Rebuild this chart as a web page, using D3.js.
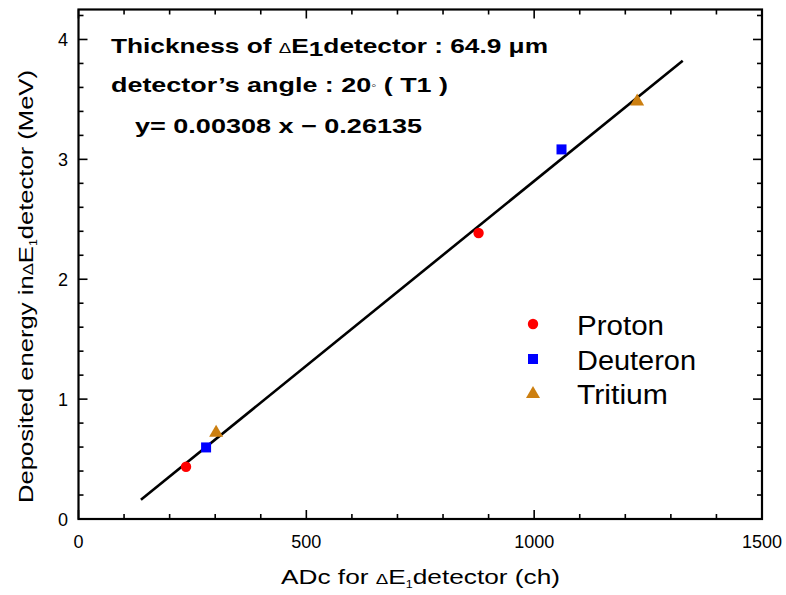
<!DOCTYPE html>
<html>
<head>
<meta charset="utf-8">
<script src="https://cdn.jsdelivr.net/npm/d3@7"></script>
<style>
  body { margin: 0; background: #fff; }
  text { font-family: "Liberation Sans", Arial, sans-serif; }
</style>
</head>
<body>
<svg id="chart" width="786" height="595"></svg>
<script>
// data
let protonX = [236, 878];
let protonY = [0.436, 2.386];
let deuteronX = [280, 1060];
let deuteronY = [0.597, 3.083];
let tritiumX = [302, 1226];
let tritiumY = [0.727, 3.49];

// fitted line y = a x + b, drawn over this x range
let fitSlope = 0.00308;
let fitIntercept = -0.26135;
let fitRange = [137, 1326];

let xTicks = [0, 500, 1000, 1500];
let yTicks = [0, 1, 2, 3, 4];

let series = [
    {name: "Proton", xs: protonX, ys: protonY, shape: "circle", color: "#ff0000"},
    {name: "Deuteron", xs: deuteronX, ys: deuteronY, shape: "square", color: "#0000ff"},
    {name: "Tritium", xs: tritiumX, ys: tritiumY, shape: "triangle", color: "#cc7f10"}
];

let margin = {left: 78.5, right: 762, top: 9.5, bottom: 519};
let svg = d3.select("#chart");

let x = d3.scaleLinear().domain([0, 1500]).range([margin.left, margin.right]);
let y = d3.scaleLinear().domain([0, 4.25]).range([margin.bottom, margin.top]);

/** ticks on all four sides, pointing inward */
let minorX = d3.range(0, 1501, 100);
let minorY = d3.range(0, 4.25, 0.2).map(v => +v.toFixed(1));

function isMajor(v, step) {
    return Math.abs(v / step - Math.round(v / step)) < 1e-6;
}

let tickG = svg.append("g").attr("stroke", "#000").attr("stroke-width", 1.6);
minorX.forEach(v => {
    let len = isMajor(v, 500) ? 9 : 5;
    tickG.append("line").attr("x1", x(v)).attr("x2", x(v))
        .attr("y1", margin.bottom).attr("y2", margin.bottom - len);
    tickG.append("line").attr("x1", x(v)).attr("x2", x(v))
        .attr("y1", margin.top).attr("y2", margin.top + len);
});
minorY.forEach(v => {
    let len = isMajor(v, 1) ? 9 : 5;
    tickG.append("line").attr("y1", y(v)).attr("y2", y(v))
        .attr("x1", margin.left).attr("x2", margin.left + len);
    tickG.append("line").attr("y1", y(v)).attr("y2", y(v))
        .attr("x1", margin.right).attr("x2", margin.right - len);
});

svg.append("rect")
    .attr("x", margin.left)
    .attr("y", margin.top)
    .attr("width", margin.right - margin.left)
    .attr("height", margin.bottom - margin.top)
    .attr("fill", "none")
    .attr("stroke", "#000")
    .attr("stroke-width", 2.2);

// tick labels
svg.selectAll(".xlab").data(xTicks).enter()
    .append("text")
    .attr("x", d => x(d))
    .attr("y", 548)
    .attr("text-anchor", "middle")
    .attr("font-size", 18)
    .text(d => d);

svg.selectAll(".ylab").data(yTicks).enter()
    .append("text")
    .attr("x", 68)
    .attr("y", d => y(d) + 6.5)
    .attr("text-anchor", "end")
    .attr("font-size", 18)
    .text(d => d);

// axis titles
let xTitle = svg.append("text")
    .attr("x", 281)
    .attr("y", 584)
    .attr("font-size", 21)
    .attr("textLength", 279)
    .attr("lengthAdjust", "spacingAndGlyphs");
xTitle.append("tspan").text("ADc for ");
xTitle.append("tspan").attr("font-size", 15).text("\u0394");
xTitle.append("tspan").text("E");
xTitle.append("tspan").attr("font-size", 10).attr("dy", 4).text("1");
xTitle.append("tspan").attr("dy", -4).text("detector (ch)");

let yTitle = svg.append("text")
    .attr("transform", "translate(33,503) rotate(-90)")
    .attr("x", 0)
    .attr("y", 0)
    .attr("font-size", 21)
    .attr("textLength", 433)
    .attr("lengthAdjust", "spacingAndGlyphs");
yTitle.append("tspan").text("Deposited energy in");
yTitle.append("tspan").attr("font-size", 15).text("\u0394");
yTitle.append("tspan").text("E");
yTitle.append("tspan").attr("font-size", 10).attr("dy", 4).text("1");
yTitle.append("tspan").attr("dy", -4).text("detector (MeV)");

// fit line
svg.append("line")
    .attr("x1", x(fitRange[0]))
    .attr("y1", y(fitSlope * fitRange[0] + fitIntercept))
    .attr("x2", x(fitRange[1]))
    .attr("y2", y(fitSlope * fitRange[1] + fitIntercept))
    .attr("stroke", "#000")
    .attr("stroke-width", 2.6);

/** markers */
function drawMarker(g, shape, cx, cy, color) {
    if (shape === "circle") {
        g.append("circle").attr("cx", cx).attr("cy", cy).attr("r", 5.2).attr("fill", color);
    } else if (shape === "square") {
        g.append("rect").attr("x", cx - 5).attr("y", cy - 5)
            .attr("width", 10).attr("height", 10).attr("fill", color);
    } else {
        g.append("path")
            .attr("d", `M${cx},${cy - 7}L${cx + 7},${cy + 5}L${cx - 7},${cy + 5}Z`)
            .attr("fill", color);
    }
}

let pts = svg.append("g");
series.forEach(s => {
    s.xs.forEach((v, i) => drawMarker(pts, s.shape, x(v), y(s.ys[i]), s.color));
});

// legend
let legendY = [324, 359, 393];
let legendW = [87, 119, 91];
series.forEach((s, i) => {
    drawMarker(svg, s.shape, 533, legendY[i], s.color);
    svg.append("text")
        .attr("x", 577)
        .attr("y", legendY[i] + 11)
        .attr("font-size", 27)
        .attr("textLength", legendW[i])
        .attr("lengthAdjust", "spacingAndGlyphs")
        .text(s.name);
});

// annotation
let note1 = svg.append("text")
    .attr("x", 111).attr("y", 53)
    .attr("font-size", 21).attr("font-weight", "bold")
    .attr("textLength", 437).attr("lengthAdjust", "spacingAndGlyphs");
note1.append("tspan").text("Thickness of ");
note1.append("tspan").attr("font-size", 15).attr("font-weight", "normal").text("\u0394");
note1.append("tspan").text("E");
note1.append("tspan").attr("dy", 3).text("1");
note1.append("tspan").attr("dy", -3).text("detector : 64.9 \u03bcm");

let note2 = svg.append("text")
    .attr("x", 111).attr("y", 92)
    .attr("font-size", 21).attr("font-weight", "bold")
    .attr("textLength", 337).attr("lengthAdjust", "spacingAndGlyphs");
note2.append("tspan").text("detector\u2019s angle : 20");
note2.append("tspan").attr("font-size", 11).attr("font-weight", "normal").attr("dy", -3).text("\u25e6");
note2.append("tspan").attr("dy", 3).text(" (  T1  )");

svg.append("text")
    .attr("x", 135).attr("y", 133)
    .attr("font-size", 21).attr("font-weight", "bold")
    .attr("textLength", 287).attr("lengthAdjust", "spacingAndGlyphs")
    .text("y= " + fitSlope + " x \u2212 " + Math.abs(fitIntercept));
</script>
</body>
</html>
